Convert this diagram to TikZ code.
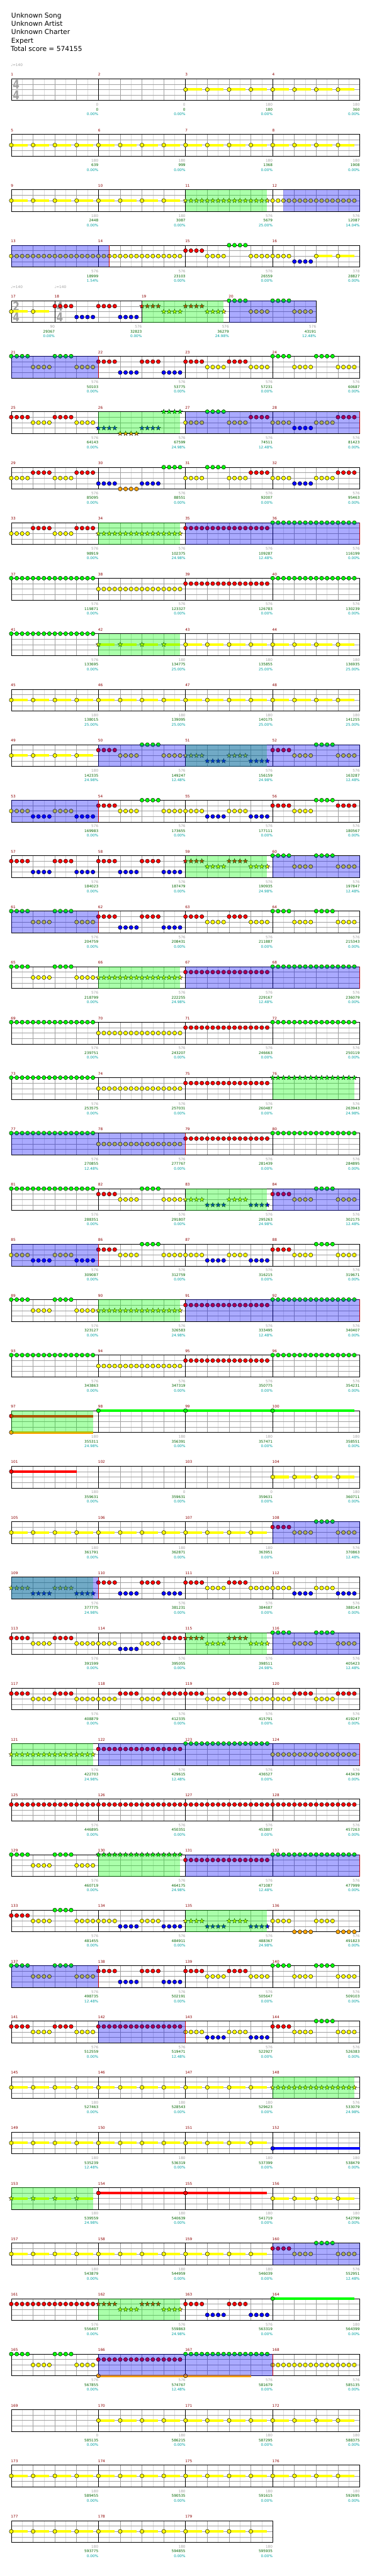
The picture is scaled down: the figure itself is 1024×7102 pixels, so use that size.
\documentclass[tikz,border=0pt]{standalone}
\usepackage{fontspec}
\setmainfont{DejaVu Sans}
\usepackage{graphicx}

% note colours
\definecolor{noteG}{HTML}{00FF00}
\definecolor{noteR}{HTML}{FF0000}
\definecolor{noteY}{HTML}{FFFF00}
\definecolor{noteB}{HTML}{0000FF}
\definecolor{noteO}{HTML}{FFA500}
% grid and text colours
\definecolor{gridmid}{HTML}{A0A0A0}
\definecolor{gridlight}{HTML}{DCDCDC}
\definecolor{barnum}{HTML}{8B0000}
\definecolor{basegray}{HTML}{A0A0A0}
\definecolor{totalgreen}{HTML}{006400}
\definecolor{pctteal}{HTML}{00A0A0}
\definecolor{spgreen}{HTML}{00FF00}
\definecolor{odblue}{HTML}{0000FF}

\tikzset{
  smalltxt/.style={font=\fontsize{10}{12}\selectfont, inner sep=0pt},
  basetxt/.style={smalltxt, text=basegray, anchor=east},
  totaltxt/.style={smalltxt, text=totalgreen, anchor=east},
  pcttxt/.style={smalltxt, text=pctteal, anchor=east},
  numtxt/.style={smalltxt, text=barnum, anchor=west},
  tempotxt/.style={smalltxt, text=basegray, anchor=west},
  headtxt/.style={font=\fontsize{18.5}{22}\selectfont, inner sep=0pt, anchor=base west},
  sigtxt/.style={font=\fontsize{34}{34}\selectfont\bfseries, text=gridmid, inner sep=0pt},
}

\newcount\grpk
\newcount\runtotal
\newif\ifsig
\makeatletter
% one hit, as circle or star
\newcommand\hitcirc[3]{\filldraw[fill=#3, draw=black, line width=0.8pt] ({#1},{#2}) circle[radius=5.5pt];}
\newcommand\hitstar[3]{\filldraw[fill=#3, draw=black, line width=0.6pt] ({#1},{#2}) +(-90:6.8) -- +(-54:2.8) -- +(-18:6.8) -- +(18:2.8) -- +(54:6.8) -- +(90:2.8) -- +(126:6.8) -- +(162:2.8) -- +(198:6.8) -- +(234:2.8) -- cycle;}
% four sixteenths on one lane
\newcommand\fourhits[3]{\foreach \i in {0,1,2,3}{\csname hit#3\endcsname{\gx+15*\i}{\ny+15*#1}{#2}}}
% yellow note with sustain bar
\newcommand\sust[1]{\fill[noteY] (\gx,{\ny+26.5}) rectangle ({\gx+45},{\ny+33.5}); \csname hit#1\endcsname{\gx}{\ny+30}{noteY}}
\def\grp@G{\fourhits{0}{noteG}{circ}}
\def\grp@R{\fourhits{1}{noteR}{circ}}
\def\grp@Y{\fourhits{2}{noteY}{circ}}
\def\grp@B{\fourhits{3}{noteB}{circ}}
\def\grp@O{\fourhits{4}{noteO}{circ}}
\def\grp@g{\fourhits{0}{noteG}{star}}
\def\grp@r{\fourhits{1}{noteR}{star}}
\def\grp@y{\fourhits{2}{noteY}{star}}
\def\grp@b{\fourhits{3}{noteB}{star}}
\def\grp@o{\fourhits{4}{noteO}{star}}
\def\grp@S{\sust{circ}}
\def\grp@s{\sust{star}}
\expandafter\def\csname grp@-\endcsname{}
\newcommand\drawnotes[3]{\grpk=0 \def\ny{#2}%
  \@tfor\nc:=#3\do{\pgfmathsetmacro\gx{#1+60*\the\grpk}\csname grp@\nc\endcsname\advance\grpk by 1\relax}}
\makeatother

% staff of one measure
\newcommand\drawmeasure[4]{%
  \foreach \k in {1,...,#3}{\draw[gridlight, line width=0.9pt] ({#1+60*\k-30},#2) -- ++(0,60);}
  \pgfmathtruncatemacro\nb{#3-1}
  \foreach \k in {1,...,\nb}{\draw[gridmid, line width=0.9pt] ({#1+60*\k},#2) -- ++(0,60);}
  \foreach \h in {15,30,45}{\draw[gridmid, line width=0.9pt] (#1,{#2+\h}) -- ++({60*#3},0);}
  \draw[black, line width=1pt] (#1,#2) rectangle ++({60*#3},60);
  \node[numtxt] (num#4) at ({#1-1},{#2-11}) {#4};}

\newcommand\chartrow[1]{\pgfmathsetmacro\rowy{217+153*#1}\gdef\curx{31}}
\newcommand\setsig[2]{\gdef\sigtop{#1}\gdef\sigbot{#2}\global\sigtrue}

% number, beats, groups, base, total, percent
\newcommand\mbar[6]{%
  \expandafter\xdef\csname mx#1\endcsname{\curx}%
  \drawmeasure{\curx}{\rowy}{#2}{#1}%
  \ifsig
    \node[sigtxt] (sigtop#1) at ({\curx+13.5},{\rowy+16}) {\scalebox{0.78}[1]{\sigtop}};
    \node[sigtxt] (sigbot#1) at ({\curx+13.5},{\rowy+45}) {\scalebox{0.78}[1]{\sigbot}};
    \global\sigfalse
  \fi
  \drawnotes{\curx}{\rowy}{#3}%
  \pgfmathsetmacro\endx{\curx+60*#2}%
  \node[basetxt] (base#1) at (\endx,{\rowy+72}) {#4};
  \node[totaltxt] (total#1) at (\endx,{\rowy+85}) {#5};
  \node[pcttxt] (pct#1) at (\endx,{\rowy+98}) {#6\%};
  \xdef\curx{\endx}}

% same, running total: number, beats, groups, base, multiplier, percent
\newcommand\mauto[6]{%
  \global\advance\runtotal by \numexpr #4*6*#5\relax
  \edef\tot{\the\runtotal}%
  \mbar{#1}{#2}{#3}{#4}{\tot}{#6}}

% long held note: measure, lane, colour, from, to
\newcommand\longnote[5]{%
  \expandafter\let\expandafter\za\csname mx#1\endcsname
  \fill[#3] ({\za+15*#4},{\rowy+15*#2-3.5}) rectangle ({\za+15*#5},{\rowy+15*#2+3.5});
  \hitcirc{\za+15*#4}{\rowy+15*#2}{#3}}

% overlay: colour, measure, pos, measure, pos
\newcommand\spzone[5]{%
  \expandafter\let\expandafter\za\csname mx#2\endcsname
  \expandafter\let\expandafter\zb\csname mx#4\endcsname
  \fill[#1, fill opacity=0.333] ({\za+15*#3},\rowy) rectangle ({\zb+15*#5},{\rowy+60});}
\newcommand\odend[2]{%
  \expandafter\let\expandafter\za\csname mx#1\endcsname
  \draw[red!80!black, line width=0.8pt] ({\za+15*#2},\rowy) -- ++(0,60);}

\begin{document}
\begin{tikzpicture}[x=1pt,y=-1pt]
\useasboundingbox (0,0) rectangle (1024,7102);

%titre
\node[headtxt] (song) at (31,49) {Unknown Song};
\node[headtxt] (artist) at (31,72) {Unknown Artist};
\node[headtxt] (charter) at (31,95) {Unknown Charter};
\node[headtxt] (level) at (31,118) {Expert};
\node[headtxt] (score) at (29.5,141) {Total score = 574155};
\node[tempotxt] (tempo1) at (30,180) {♩=140};

% ligne 1
\chartrow{0}
\setsig{4}{4}
\mbar{1}{4}{----}{0}{0}{0.00}
\mbar{2}{4}{----}{0}{0}{0.00}
\mbar{3}{4}{SSSS}{180}{180}{0.00}
\mbar{4}{4}{SSSS}{180}{360}{0.00}

% ligne 2
\chartrow{1}
\mbar{5}{4}{SSSS}{180}{639}{0.00}
\mbar{6}{4}{SSSS}{180}{999}{0.00}
\mbar{7}{4}{SSSS}{180}{1368}{0.00}
\mbar{8}{4}{SSSS}{180}{1908}{0.00}

% ligne 3
\chartrow{2}
\mbar{9}{4}{SSSS}{180}{2448}{0.00}
\mbar{10}{4}{SSSS}{180}{3087}{0.00}
\mbar{11}{4}{yyyy}{576}{5679}{25.00}
\mbar{12}{4}{YYYY}{576}{12087}{14.04}
\spzone{spgreen}{11}{0}{11}{15}
\spzone{odblue}{12}{2}{12}{16}

% ligne 4
\chartrow{3}
\mbar{13}{4}{YYYY}{576}{18999}{1.54}
\mbar{14}{4}{YYYY}{576}{23103}{0.00}
\mbar{15}{4}{RYGY}{576}{26559}{0.00}
\mbar{16}{4}{YBSS}{378}{28827}{0.00}
\spzone{odblue}{13}{0}{14}{2}
\odend{14}{2}

% ligne 5
\chartrow{4}
\node[tempotxt] (tempo17) at (30,792) {♩=140};
\node[tempotxt] (tempo18) at (150,792) {♩=140};
\setsig{2}{4}
\mbar{17}{2}{SS}{90}{29367}{0.00}
\setsig{4}{4}
\mbar{18}{4}{RBRB}{576}{32823}{0.00}
\mbar{19}{4}{ryry}{576}{36279}{24.98}
\mbar{20}{4}{GYGY}{576}{43191}{12.48}
\spzone{spgreen}{19}{0}{19}{15}
\spzone{odblue}{20}{0}{20}{16}

% ligne 6
\chartrow{5}
\mbar{21}{4}{GYGY}{576}{50103}{0.00}
\mbar{22}{4}{RBRB}{576}{53775}{0.00}
\mbar{23}{4}{RYRY}{576}{57231}{0.00}
\mbar{24}{4}{GYGY}{576}{60687}{0.00}
\spzone{odblue}{21}{0}{21}{16}
\odend{22}{0}

% ligne 7
\chartrow{6}
\mbar{25}{4}{RYRY}{576}{64143}{0.00}
\mbar{26}{4}{bobg}{576}{67599}{24.98}
\mbar{27}{4}{YGYR}{576}{74511}{12.48}
\mbar{28}{4}{YBYR}{576}{81423}{0.00}
\spzone{spgreen}{26}{0}{26}{15}
\spzone{odblue}{27}{0}{28}{16}
\odend{28}{16}

% ligne 8
\chartrow{7}
\mbar{29}{4}{YRYR}{576}{85095}{0.00}
\mbar{30}{4}{BOBG}{576}{88551}{0.00}
\mbar{31}{4}{YGYR}{576}{92007}{0.00}
\mbar{32}{4}{YBYR}{576}{95463}{0.00}

% ligne 9
\chartrow{8}
\mbar{33}{4}{YRYR}{576}{98919}{0.00}
\mbar{34}{4}{yyyy}{576}{102375}{24.98}
\mbar{35}{4}{RRRR}{576}{109287}{12.48}
\mbar{36}{4}{GGGG}{576}{116199}{0.00}
\spzone{spgreen}{34}{0}{34}{15}
\spzone{odblue}{35}{0}{36}{16}
\odend{36}{16}

% ligne 10
\chartrow{9}
\mbar{37}{4}{GGGG}{576}{119871}{0.00}
\mbar{38}{4}{YYYY}{576}{123327}{0.00}
\mbar{39}{4}{RRRR}{576}{126783}{0.00}
\mbar{40}{4}{GGGG}{576}{130239}{0.00}

% ligne 11
\chartrow{10}
\mbar{41}{4}{GGGG}{576}{133695}{0.00}
\mbar{42}{4}{ssss}{180}{134775}{25.00}
\mbar{43}{4}{SSSS}{180}{135855}{25.00}
\mbar{44}{4}{SSSS}{180}{136935}{25.00}
\spzone{spgreen}{42}{0}{42}{15}

% ligne 12
\chartrow{11}
\mbar{45}{4}{SSSS}{180}{138015}{25.00}
\mbar{46}{4}{SSSS}{180}{139095}{25.00}
\mbar{47}{4}{SSSS}{180}{140175}{25.00}
\mbar{48}{4}{SSSS}{180}{141255}{25.00}

% ligne 13
\chartrow{12}
\mbar{49}{4}{SSSS}{180}{142335}{24.98}
\mbar{50}{4}{RYGY}{576}{149247}{12.48}
\mbar{51}{4}{ybyb}{576}{156159}{24.98}
\mbar{52}{4}{RYGY}{576}{163287}{12.48}
\spzone{spgreen}{51}{0}{51}{15}
\spzone{odblue}{50}{0}{52}{16}

% ligne 14
\chartrow{13}
\mbar{53}{4}{YBYB}{576}{169983}{0.00}
\mbar{54}{4}{RYGY}{576}{173655}{0.00}
\mbar{55}{4}{YBYB}{576}{177111}{0.00}
\mbar{56}{4}{RYGR}{576}{180567}{0.00}
\spzone{odblue}{53}{0}{53}{16}
\odend{54}{0}

% ligne 15
\chartrow{14}
\mbar{57}{4}{RBRB}{576}{184023}{0.00}
\mbar{58}{4}{RBRB}{576}{187479}{0.00}
\mbar{59}{4}{ryry}{576}{190935}{24.98}
\mbar{60}{4}{GYGY}{576}{197847}{12.48}
\spzone{spgreen}{59}{0}{59}{15}
\spzone{odblue}{60}{0}{60}{16}

% ligne 16
\chartrow{15}
\mbar{61}{4}{GYGY}{576}{204759}{0.00}
\mbar{62}{4}{RBRB}{576}{208431}{0.00}
\mbar{63}{4}{RYRY}{576}{211887}{0.00}
\mbar{64}{4}{GYGY}{576}{215343}{0.00}
\spzone{odblue}{61}{0}{61}{16}
\odend{62}{0}

% ligne 17
\chartrow{16}
\mbar{65}{4}{GYGY}{576}{218799}{0.00}
\mbar{66}{4}{yyyy}{576}{222255}{24.98}
\mbar{67}{4}{RRRR}{576}{229167}{12.48}
\mbar{68}{4}{GGGG}{576}{236079}{0.00}
\spzone{spgreen}{66}{0}{66}{15}
\spzone{odblue}{67}{0}{68}{16}
\odend{68}{16}

% ligne 18
\chartrow{17}
\mbar{69}{4}{GGGG}{576}{239751}{0.00}
\mbar{70}{4}{YYYY}{576}{243207}{0.00}
\mbar{71}{4}{RRRR}{576}{246663}{0.00}
\mbar{72}{4}{GGGG}{576}{250119}{0.00}

% ligne 19
\chartrow{18}
\mbar{73}{4}{GGGG}{576}{253575}{0.00}
\mbar{74}{4}{YYYY}{576}{257031}{0.00}
\mbar{75}{4}{RRRR}{576}{260487}{0.00}
\mbar{76}{4}{gggg}{576}{263943}{24.98}
\spzone{spgreen}{76}{0}{76}{15}

% ligne 20
\chartrow{19}
\mbar{77}{4}{GGGG}{576}{270855}{12.48}
\mbar{78}{4}{YYYY}{576}{277767}{0.00}
\mbar{79}{4}{RRRR}{576}{281439}{0.00}
\mbar{80}{4}{GGGG}{576}{284895}{0.00}
\spzone{odblue}{77}{0}{79}{0}
\odend{79}{0}

% ligne 21
\chartrow{20}
\mbar{81}{4}{GGGG}{576}{288351}{0.00}
\mbar{82}{4}{RYGY}{576}{291807}{0.00}
\mbar{83}{4}{ybyb}{576}{295263}{24.98}
\mbar{84}{4}{RYGY}{576}{302175}{12.48}
\spzone{spgreen}{83}{0}{83}{15}
\spzone{odblue}{84}{0}{84}{16}

% ligne 22
\chartrow{21}
\mbar{85}{4}{YBYB}{576}{309087}{0.00}
\mbar{86}{4}{RYGY}{576}{312759}{0.00}
\mbar{87}{4}{YBYB}{576}{316215}{0.00}
\mbar{88}{4}{RYGY}{576}{319671}{0.00}
\spzone{odblue}{85}{0}{85}{16}
\odend{86}{0}
\global\runtotal=319671

% ligne 23
\chartrow{22}
\mauto{89}{4}{GYGY}{576}{1}{0.00}
\mauto{90}{4}{yyyy}{576}{1}{24.98}
\mauto{91}{4}{RRRR}{576}{2}{12.48}
\mauto{92}{4}{GGGG}{576}{2}{0.00}
\spzone{spgreen}{90}{0}{90}{15}
\spzone{odblue}{91}{0}{92}{16}
\odend{92}{16}

% ligne 24
\chartrow{23}
\mauto{93}{4}{GGGG}{576}{1}{0.00}
\mauto{94}{4}{YYYY}{576}{1}{0.00}
\mauto{95}{4}{RRRR}{576}{1}{0.00}
\mauto{96}{4}{GGGG}{576}{1}{0.00}

% ligne 25
\chartrow{24}
\mauto{97}{4}{----}{180}{1}{24.98}
\mauto{98}{4}{----}{180}{1}{0.00}
\mauto{99}{4}{----}{180}{1}{0.00}
\mauto{100}{4}{----}{180}{1}{0.00}
\longnote{97}{1}{noteR}{0}{15}
\longnote{97}{4}{noteO}{0}{15}
\longnote{98}{0}{noteG}{0}{16}
\longnote{99}{0}{noteG}{0}{16}
\longnote{100}{0}{noteG}{0}{15}
\spzone{spgreen}{97}{0}{97}{15}

% ligne 26
\chartrow{25}
\mauto{101}{4}{----}{180}{1}{0.00}
\mauto{102}{4}{----}{0}{1}{0.00}
\mauto{103}{4}{----}{0}{1}{0.00}
\mauto{104}{4}{SSSS}{180}{1}{0.00}
\longnote{101}{1}{noteR}{0}{12}

% ligne 27
\chartrow{26}
\mauto{105}{4}{SSSS}{180}{1}{0.00}
\mauto{106}{4}{SSSS}{180}{1}{0.00}
\mauto{107}{4}{SSSS}{180}{1}{0.00}
\mauto{108}{4}{RYGY}{576}{2}{12.48}
\spzone{odblue}{108}{0}{108}{16}

% ligne 28
\chartrow{27}
\mauto{109}{4}{ybyb}{576}{2}{24.98}
\mauto{110}{4}{RBRB}{576}{1}{0.00}
\mauto{111}{4}{RYRY}{576}{1}{0.00}
\mauto{112}{4}{YBYB}{576}{1}{0.00}
\spzone{spgreen}{109}{0}{109}{15}
\spzone{odblue}{109}{0}{109}{16}
\odend{110}{0}

% ligne 29
\chartrow{28}
\mauto{113}{4}{RYRY}{576}{1}{0.00}
\mauto{114}{4}{YBYR}{576}{1}{0.00}
\mauto{115}{4}{ryry}{576}{1}{24.98}
\mauto{116}{4}{GYGY}{576}{2}{12.48}
\spzone{spgreen}{115}{0}{115}{15}
\spzone{odblue}{116}{0}{116}{16}

% ligne 30
\chartrow{29}
\mauto{117}{4}{RYRY}{576}{1}{0.00}
\mauto{118}{4}{YRYR}{576}{1}{0.00}
\mauto{119}{4}{RYRY}{576}{1}{0.00}
\mauto{120}{4}{YRYR}{576}{1}{0.00}

% ligne 31
\chartrow{30}
\mauto{121}{4}{yyyy}{576}{1}{24.98}
\mauto{122}{4}{RRRR}{576}{2}{12.48}
\mauto{123}{4}{GGGG}{576}{2}{0.00}
\mauto{124}{4}{YYYY}{576}{2}{0.00}
\spzone{spgreen}{121}{0}{121}{15}
\spzone{odblue}{122}{0}{124}{16}
\odend{124}{16}

% ligne 32
\chartrow{31}
\mauto{125}{4}{RRRR}{576}{1}{0.00}
\mauto{126}{4}{RRRR}{576}{1}{0.00}
\mauto{127}{4}{RRRR}{576}{1}{0.00}
\mauto{128}{4}{RRRR}{576}{1}{0.00}

% ligne 33
\chartrow{32}
\mauto{129}{4}{GYGY}{576}{1}{0.00}
\mauto{130}{4}{gggg}{576}{1}{24.98}
\mauto{131}{4}{RRRR}{576}{2}{12.48}
\mauto{132}{4}{GGGG}{576}{2}{0.00}
\spzone{spgreen}{130}{0}{130}{15}
\spzone{odblue}{131}{0}{132}{16}
\odend{132}{16}

% ligne 34
\chartrow{33}
\mauto{133}{4}{RYGY}{576}{1}{0.00}
\mauto{134}{4}{YBYB}{576}{1}{0.00}
\mauto{135}{4}{ybyb}{576}{1}{24.98}
\mauto{136}{4}{YOYO}{576}{1}{0.00}
\spzone{spgreen}{135}{0}{135}{15}

% ligne 35
\chartrow{34}
\mauto{137}{4}{GYGY}{576}{2}{12.48}
\mauto{138}{4}{RBRB}{576}{1}{0.00}
\mauto{139}{4}{RYRY}{576}{1}{0.00}
\mauto{140}{4}{GYGY}{576}{1}{0.00}
\spzone{odblue}{137}{0}{137}{16}
\odend{138}{0}

% ligne 36
\chartrow{35}
\mauto{141}{4}{RYRY}{576}{1}{0.00}
\mauto{142}{4}{RRRR}{576}{2}{12.48}
\mauto{143}{4}{YBYB}{576}{1}{0.00}
\mauto{144}{4}{RYGY}{576}{1}{0.00}
\spzone{odblue}{142}{0}{142}{16}
\odend{143}{0}

% ligne 37
\chartrow{36}
\mauto{145}{4}{SSSS}{180}{1}{0.00}
\mauto{146}{4}{SSSS}{180}{1}{0.00}
\mauto{147}{4}{SSSS}{180}{1}{0.00}
\mauto{148}{4}{yyyy}{576}{1}{24.98}
\spzone{spgreen}{148}{0}{148}{15}

% ligne 38
\chartrow{37}
\mauto{149}{4}{SSSS}{180}{2}{12.48}
\mauto{150}{4}{SSSS}{180}{1}{0.00}
\mauto{151}{4}{SSSS}{180}{1}{0.00}
\mauto{152}{4}{----}{180}{1}{0.00}
\longnote{152}{3}{noteB}{0}{16}

% ligne 39
\chartrow{38}
\mauto{153}{4}{ssss}{180}{1}{24.98}
\mauto{154}{4}{----}{180}{1}{0.00}
\mauto{155}{4}{----}{180}{1}{0.00}
\mauto{156}{4}{SSSS}{180}{1}{0.00}
\longnote{154}{1}{noteR}{0}{16}
\longnote{155}{1}{noteR}{0}{15}
\spzone{spgreen}{153}{0}{153}{15}

% ligne 40
\chartrow{39}
\mauto{157}{4}{SSSS}{180}{1}{0.00}
\mauto{158}{4}{SSSS}{180}{1}{0.00}
\mauto{159}{4}{SSSS}{180}{1}{0.00}
\mauto{160}{4}{RYGY}{576}{2}{12.48}
\spzone{odblue}{160}{0}{160}{16}

% ligne 41
\chartrow{40}
\mauto{161}{4}{RRRR}{576}{1}{0.00}
\mauto{162}{4}{ryry}{576}{1}{24.98}
\mauto{163}{4}{RBRB}{576}{1}{0.00}
\mauto{164}{4}{----}{180}{1}{0.00}
\longnote{164}{0}{noteG}{0}{15}
\spzone{spgreen}{162}{0}{162}{15}

% ligne 42
\chartrow{41}
\mauto{165}{4}{GYGY}{576}{1}{0.00}
\mauto{166}{4}{RRRR}{576}{2}{12.48}
\mauto{167}{4}{GGGG}{576}{2}{0.00}
\mauto{168}{4}{YYYY}{576}{1}{0.00}
\longnote{166}{4}{noteO}{0}{16}
\longnote{167}{4}{noteO}{0}{12}
\spzone{odblue}{166}{0}{167}{16}
\odend{167}{16}

% ligne 43
\chartrow{42}
\mauto{169}{4}{----}{0}{1}{0.00}
\mauto{170}{4}{SSSS}{180}{1}{0.00}
\mauto{171}{4}{SSSS}{180}{1}{0.00}
\mauto{172}{4}{SSSS}{180}{1}{0.00}

% ligne 44
\chartrow{43}
\mauto{173}{4}{SSSS}{180}{1}{0.00}
\mauto{174}{4}{SSSS}{180}{1}{0.00}
\mauto{175}{4}{SSSS}{180}{1}{0.00}
\mauto{176}{4}{SSSS}{180}{1}{0.00}

% ligne 45
\chartrow{44}
\mauto{177}{4}{SSSS}{180}{1}{0.00}
\mauto{178}{4}{SSSS}{180}{1}{0.00}
\mauto{179}{4}{SSSS}{180}{1}{0.00}
\end{tikzpicture}
\end{document}
